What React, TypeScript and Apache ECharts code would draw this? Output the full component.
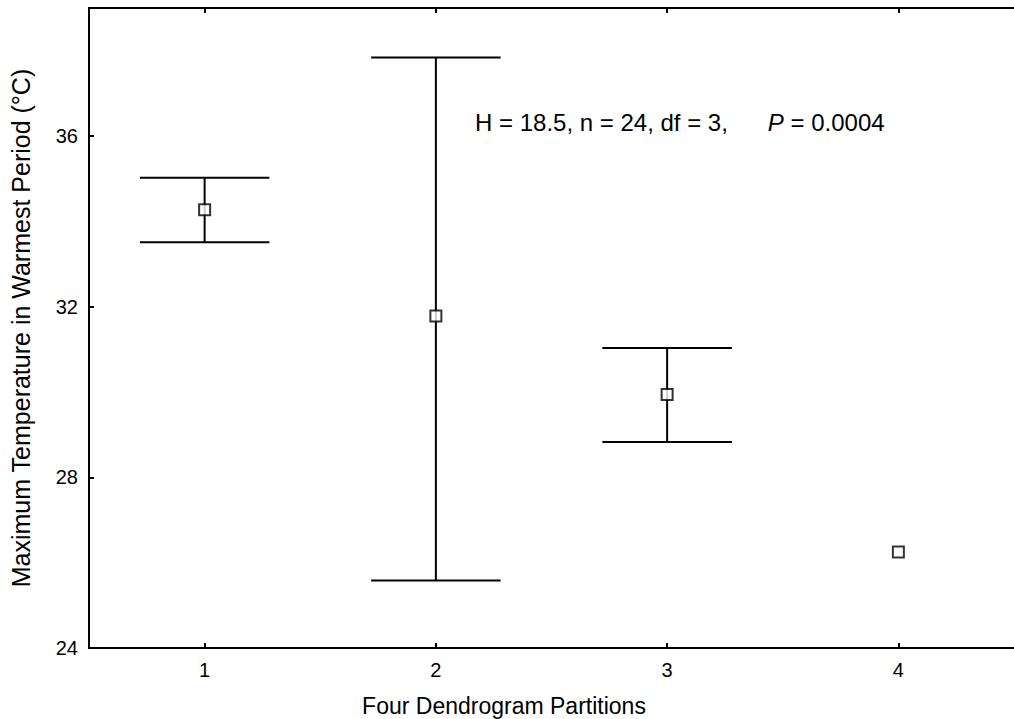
import React, { useEffect, useRef } from "react";
import * as echarts from "echarts";

const categories = ["1", "2", "3", "4"];
const means = [34.27, 31.78, 29.94, 26.25];
const upper: (number | null)[] = [35.02, 37.84, 31.03, null];
const lower: (number | null)[] = [33.51, 25.58, 28.83, null];
const yTicks = { min: 24, max: 39, interval: 4 };
const xTitle = "Four Dendrogram Partitions";
const yTitle = "Maximum Temperature in Warmest Period (°C)";

const FONT = "'Liberation Sans', Arial, Helvetica, sans-serif";

export default function App() {
  const ref = useRef<HTMLDivElement>(null);
  useEffect(() => {
    if (!ref.current) return;
    const chart = echarts.init(ref.current, null, { renderer: "svg" });
    const errData = categories
      .map((_, i) => [i, lower[i], upper[i]])
      .filter((d) => d[1] != null && d[2] != null);
    const axisLine = { show: true, lineStyle: { color: "#000", width: 2 } };
    chart.setOption({
      animation: false,
      backgroundColor: "#fff",
      textStyle: { fontFamily: FONT },
      grid: { left: 88, top: 8, width: 933, height: 640, containLabel: false },
      xAxis: [
        {
          type: "category",
          data: categories,
          position: "bottom",
          boundaryGap: true,
          axisLine,
          axisTick: { show: true, inside: true, alignWithLabel: true, length: 5, lineStyle: { color: "#000", width: 2 } },
          axisLabel: { color: "#000", fontSize: 20, margin: 12, fontFamily: FONT },
          splitLine: { show: false },
        },
        {
          type: "category",
          data: categories,
          position: "top",
          boundaryGap: true,
          axisLine,
          axisTick: { show: true, inside: true, alignWithLabel: true, length: 5, lineStyle: { color: "#000", width: 2 } },
          axisLabel: { show: false },
          splitLine: { show: false },
        },
      ],
      yAxis: {
        type: "value",
        min: yTicks.min,
        max: yTicks.max,
        interval: yTicks.interval,
        axisLine,
        axisTick: { show: true, inside: true, length: 5, lineStyle: { color: "#000", width: 2 } },
        axisLabel: {
          color: "#000",
          fontSize: 20,
          margin: 11,
          fontFamily: FONT,
          showMaxLabel: false,
          formatter: (v: number) => (v % 4 === 0 ? String(v) : ""),
        },
        splitLine: { show: false },
        name: yTitle,
        nameLocation: "middle",
        nameGap: 56,
        nameTextStyle: { color: "#000", fontSize: 25, fontFamily: FONT },
      },
      graphic: [
        {
          type: "text",
          x: 504,
          y: 706,
          style: {
            text: xTitle,
            fill: "#000",
            font: `23px ${FONT}`,
            textAlign: "center",
            textVerticalAlign: "middle",
          },
        },
        {
          type: "text",
          x: 475,
          y: 122,
          style: {
            text: "H = 18.5, n = 24, df = 3,      {i|P} = 0.0004",
            fill: "#000",
            font: `24px ${FONT}`,
            textVerticalAlign: "middle",
            rich: {
              i: { fontStyle: "italic", fontSize: 24, fontFamily: FONT, fill: "#000" },
            },
          },
        },
      ],
      series: [
        {
          type: "custom",
          xAxisIndex: 0,
          data: errData,
          z: 2,
          renderItem: (params: any, api: any) => {
            const x = api.value(0);
            const lo = api.coord([x, api.value(1)]);
            const hi = api.coord([x, api.value(2)]);
            const half = api.size([1, 0])[0] * 0.28;
            const style = { stroke: "#000", lineWidth: 2 };
            return {
              type: "group",
              children: [
                { type: "line", shape: { x1: lo[0], y1: lo[1], x2: hi[0], y2: hi[1] }, style },
                { type: "line", shape: { x1: hi[0] - half, y1: hi[1], x2: hi[0] + half, y2: hi[1] }, style },
                { type: "line", shape: { x1: lo[0] - half, y1: lo[1], x2: lo[0] + half, y2: lo[1] }, style },
              ],
            };
          },
        },
        {
          type: "scatter",
          xAxisIndex: 0,
          data: means,
          symbol: "rect",
          symbolSize: 11,
          z: 5,
          itemStyle: { color: "#fff", borderColor: "#000", borderWidth: 2 },
        },
      ],
    });
    return () => chart.dispose();
  }, []);
  return (
    <div
      ref={ref}
      style={{ position: "absolute", left: 0, top: 0, width: 1014, height: 719, background: "#fff" }}
    />
  );
}
